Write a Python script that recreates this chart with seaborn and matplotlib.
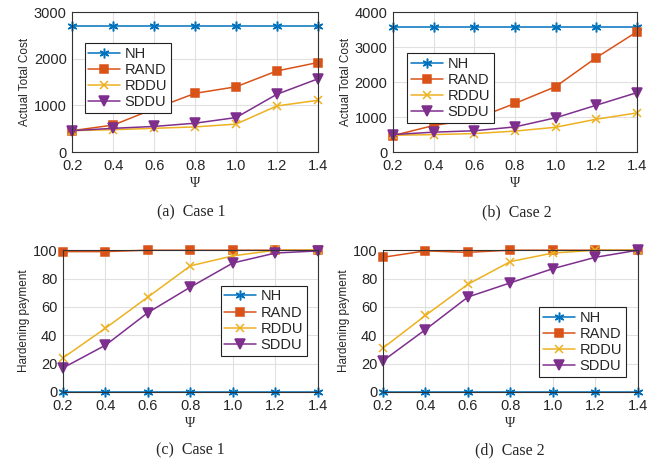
import numpy as np
import pandas as pd
import matplotlib
matplotlib.use('Agg')
import matplotlib.pyplot as plt
import seaborn as sns

sns.set_style('whitegrid')
plt.rcParams['font.family'] = ['Liberation Sans', 'DejaVu Sans']

# %% data
psi = [0.2, 0.4, 0.6, 0.8, 1.0, 1.2, 1.4]
methods = ['NH', 'RAND', 'RDDU', 'SDDU']

cost_case1 = {
    'NH':   [2700, 2700, 2700, 2700, 2700, 2700, 2700],
    'RAND': [460, 580, 930, 1260, 1400, 1740, 1920],
    'RDDU': [460, 480, 510, 540, 600, 990, 1110],
    'SDDU': [460, 510, 550, 620, 740, 1240, 1570],
}
cost_case2 = {
    'NH':   [3570, 3570, 3570, 3570, 3570, 3570, 3570],
    'RAND': [470, 760, 940, 1390, 1870, 2700, 3440],
    'RDDU': [480, 500, 530, 600, 710, 940, 1120],
    'SDDU': [500, 570, 610, 720, 980, 1340, 1700],
}
pay_case1 = {
    'NH':   [0, 0, 0, 0, 0, 0, 0],
    'RAND': [99, 99, 100, 100, 100, 100, 100],
    'RDDU': [24, 45, 67, 89, 96, 100, 100],
    'SDDU': [17, 33, 56, 74, 91, 98, 99.5],
}
pay_case2 = {
    'NH':   [0, 0, 0, 0, 0, 0, 0],
    'RAND': [95, 99.5, 98.5, 100, 100, 100, 100],
    'RDDU': [31, 54, 76, 92, 98, 100, 100],
    'SDDU': [22, 44, 67, 77, 87, 95, 100],
}

colors = {'NH': '#0072BD', 'RAND': '#D95319', 'RDDU': '#EDB120', 'SDDU': '#7E2F8E'}
markers = {'NH': (6, 2, 0), 'RAND': 's', 'RDDU': 'x', 'SDDU': 'v'}
msize = {'NH': 7, 'RAND': 5.5, 'RDDU': 6, 'SDDU': 7.5}


def long_df(d):
    rows = []
    for m in methods:
        for x, v in zip(psi, d[m]):
            rows.append({'psi': x, 'val': v, 'method': m})
    return pd.DataFrame(rows)


def draw(ax, d, ylim, yticks, ylabel, legend_kw):
    df = long_df(d)
    for m in methods:
        sub = df[df['method'] == m]
        sns.lineplot(data=sub, x='psi', y='val', ax=ax, color=colors[m],
                     marker=markers[m], markersize=msize[m], linewidth=1.1,
                     markeredgecolor=colors[m], markeredgewidth=1.1, label=m,
                     clip_on=False)
    ax.set_xlim(0.2, 1.4)
    ax.set_ylim(*ylim)
    ax.set_xticks(psi)
    ax.set_xticklabels(['%.1f' % x for x in psi])
    ax.set_yticks(yticks)
    ax.tick_params(axis='x', labelsize=10.5, pad=5, length=0)
    ax.tick_params(axis='y', labelsize=10.5, pad=4, length=0)
    ax.set_ylabel(ylabel, fontsize=8.5, labelpad=2)
    ax.set_xlabel('Ψ', fontsize=10, family=['Liberation Serif'], labelpad=3)
    ax.grid(True, color='#e0e0e0', linewidth=0.8)
    for s in ax.spines.values():
        s.set_color('#333333')
        s.set_linewidth(0.8)
    leg = ax.legend(fontsize=10.5, handlelength=2.2, handletextpad=0.3,
                    borderpad=0.25, labelspacing=0.15, fancybox=False,
                    framealpha=1, **legend_kw)
    leg.get_frame().set_edgecolor('#222222')
    leg.get_frame().set_linewidth(0.8)


fig = plt.figure(figsize=(6.58, 4.68), dpi=100)
ax1 = fig.add_axes([0.110, 0.675, 0.373, 0.299])
ax2 = fig.add_axes([0.597, 0.675, 0.371, 0.299])
ax3 = fig.add_axes([0.0957, 0.1624, 0.3875, 0.303])
ax4 = fig.add_axes([0.582, 0.1624, 0.3875, 0.303])

draw(ax1, cost_case1, (0, 3000), [0, 1000, 2000, 3000], 'Actual Total Cost',
     dict(loc='upper left', bbox_to_anchor=(0.02, 0.83)))
draw(ax2, cost_case2, (0, 4000), [0, 1000, 2000, 3000, 4000], 'Actual Total Cost',
     dict(loc='upper left', bbox_to_anchor=(0.03, 0.76)))
draw(ax3, pay_case1, (0, 100), [0, 20, 40, 60, 80, 100], 'Hardening payment',
     dict(loc='upper right', bbox_to_anchor=(0.985, 0.8)))
draw(ax4, pay_case2, (0, 100), [0, 20, 40, 60, 80, 100], 'Hardening payment',
     dict(loc='lower right', bbox_to_anchor=(0.98, 0.055)))

cap = dict(fontsize=11.5, family=['Liberation Serif'], ha='center', va='center')
fig.text(0.29, 1 - 212 / 468, '(a)  Case 1', **cap)
fig.text(0.785, 1 - 212 / 468, '(b)  Case 2', **cap)
fig.text(0.29, 1 - 450 / 468, '(c)  Case 1', **cap)
fig.text(0.775, 1 - 450 / 468, '(d)  Case 2', **cap)

fig.savefig('out.png', dpi=100)
